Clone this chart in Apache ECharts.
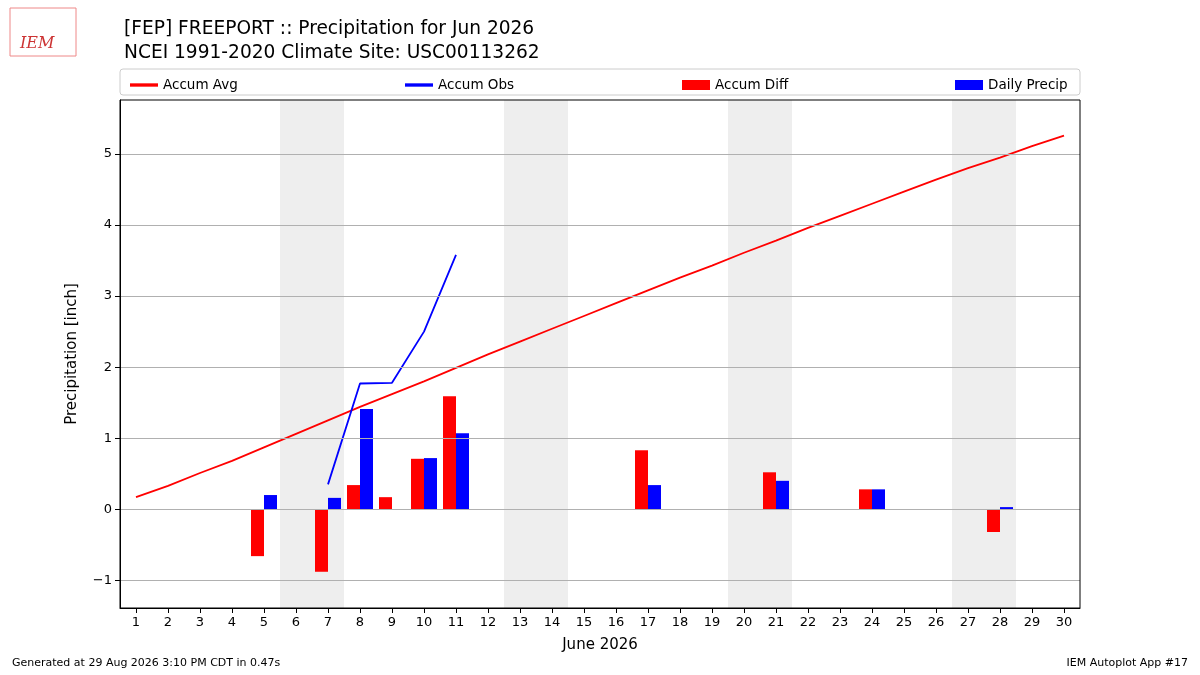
<!DOCTYPE html>
<html>
<head>
<meta charset="UTF-8">
<script src="https://cdn.jsdelivr.net/npm/echarts@6/dist/echarts.min.js"></script>
<style>body{margin:0}#root{width:1200px;height:675px}</style>
</head>
<body>
<div id="root"></div>
<script>
var days = [];
for (var d = 1; d <= 30; d++) days.push(String(d));
var accumAvg = [0.17,0.33,0.51,0.68,0.87,1.06,1.25,1.44,1.62,1.80,1.99,2.18,2.36,2.54,2.72,2.90,3.08,3.26,3.43,3.61,3.78,3.96,4.13,4.30,4.47,4.64,4.80,4.95,5.11,5.26];
var accumObs = [null,null,null,null,null,null,0.35,1.77,1.78,2.50,3.58,null,null,null,null,null,null,null,null,null,null,null,null,null,null,null,null,null,null,null];
var accumDiff = [null,null,null,null,-0.66,null,-0.88,0.34,0.17,0.71,1.59,null,null,null,null,null,0.83,null,null,null,0.52,null,null,0.28,null,null,null,-0.32,null,null];
var dailyPrecip = [null,null,null,null,0.20,null,0.16,1.41,null,0.72,1.07,null,null,null,null,null,0.34,null,null,null,0.40,null,null,0.28,null,null,null,0.03,null,null];
var weekends = [[5.5,7.5],[12.5,14.5],[19.5,21.5],[26.5,28.5]];
var yTicks = [-1,0,1,2,3,4,5];

var font = 'DejaVu Sans';
var chart = echarts.init(document.getElementById('root'));
function legend(name, left, icon) {
  return {data:[{name:name, icon:icon}], left:left, top:73, itemWidth:28, itemHeight: icon === 'rect' ? 10 : 14, itemGap:10,
    textStyle:{fontFamily:font, fontSize:13.5, color:'#000'}, selectedMode:false};
}
chart.setOption({
  animation:false,
  textStyle:{fontFamily:font},
  title:{text:'[FEP] FREEPORT :: Precipitation for Jun 2026\nNCEI 1991-2020 Climate Site: USC00113262', left:119, top:12,
    textStyle:{fontFamily:font, fontSize:18.6, fontWeight:'normal', lineHeight:24, color:'#000'}},
  legend:[legend('Accum Avg',125,'path://M0,0H1V0.12H0Z'), legend('Accum Obs',400,'path://M0,0H1V0.12H0Z'),
          legend('Accum Diff',677,'rect'), legend('Daily Precip',950,'rect')],
  graphic:[
    {type:'rect', shape:{x:120,y:69,width:960,height:26,r:3}, style:{fill:'none', stroke:'#ccc'}},
    {type:'text', left:12, top:658, style:{text:'Generated at 29 Aug 2026 3:10 PM CDT in 0.47s', font:'11px DejaVu Sans', fill:'#000'}},
    {type:'text', right:12, top:658, style:{text:'IEM Autoplot App #17', font:'11px DejaVu Sans', fill:'#000'}},
    {type:'text', left:20, top:36, style:{text:'IEM', font:'italic 16px DejaVu Serif', fill:'#c33'}},
    {type:'rect', shape:{x:10,y:8,width:66,height:48}, style:{fill:'none', stroke:'#e88', lineWidth:1}},
    {type:'rect', z:100, shape:{x:120,y:100,width:960,height:508}, style:{fill:'none', stroke:'#000', lineWidth:1}}
  ],
  grid:{left:120, right:120, top:100, bottom:67},
  xAxis:[
    {type:'category', data:days, boundaryGap:true, name:'June 2026', nameLocation:'middle', nameGap:30,
     nameTextStyle:{fontSize:15, color:'#000'}, z:10,
     axisLine:{onZero:false, lineStyle:{color:'#000'}}, axisTick:{show:true, alignWithLabel:true, length:5, lineStyle:{color:'#000'}},
     axisLabel:{color:'#000', fontSize:13, interval:0}, splitLine:{show:false}},
    {type:'value', min:0.5, max:30.5, show:false}
  ],
  yAxis:{type:'value', min:-1.39, max:5.76, name:'Precipitation [inch]', nameLocation:'middle', nameGap:40,
    nameTextStyle:{fontSize:15, color:'#000'}, z:10,
    axisLine:{show:true, lineStyle:{color:'#000'}},
    axisTick:{show:true, length:5, customValues:yTicks, lineStyle:{color:'#000'}},
    axisLabel:{color:'#000', fontSize:13, customValues:yTicks, formatter:function(v){return String(v).replace('-','\u2212');}},
    splitLine:{show:false}},
  series:[
    {type:'line', xAxisIndex:1, data:[], z:0, markArea:{silent:true, itemStyle:{color:'#eeeeee'},
      data:weekends.map(function(w){return [{xAxis:w[0]},{xAxis:w[1]}];})},
     markLine:{silent:true, symbol:'none', label:{show:false}, lineStyle:{color:'#b0b0b0', width:1, type:'solid'},
      data:yTicks.map(function(t){return {yAxis:t};})}},
    {name:'Accum Diff', type:'bar', data:accumDiff, barWidth:13, barGap:'0%', itemStyle:{color:'#ff0000'}},
    {name:'Daily Precip', type:'bar', data:dailyPrecip, barWidth:13, barGap:'0%', itemStyle:{color:'#0000ff'}},
    {name:'Accum Avg', type:'line', data:accumAvg, showSymbol:false, lineStyle:{color:'#ff0000', width:1.8}, itemStyle:{color:'#ff0000'}},
    {name:'Accum Obs', type:'line', data:accumObs, showSymbol:false, lineStyle:{color:'#0000ff', width:1.8}, itemStyle:{color:'#0000ff'}}
  ]
});
</script>
</body>
</html>
